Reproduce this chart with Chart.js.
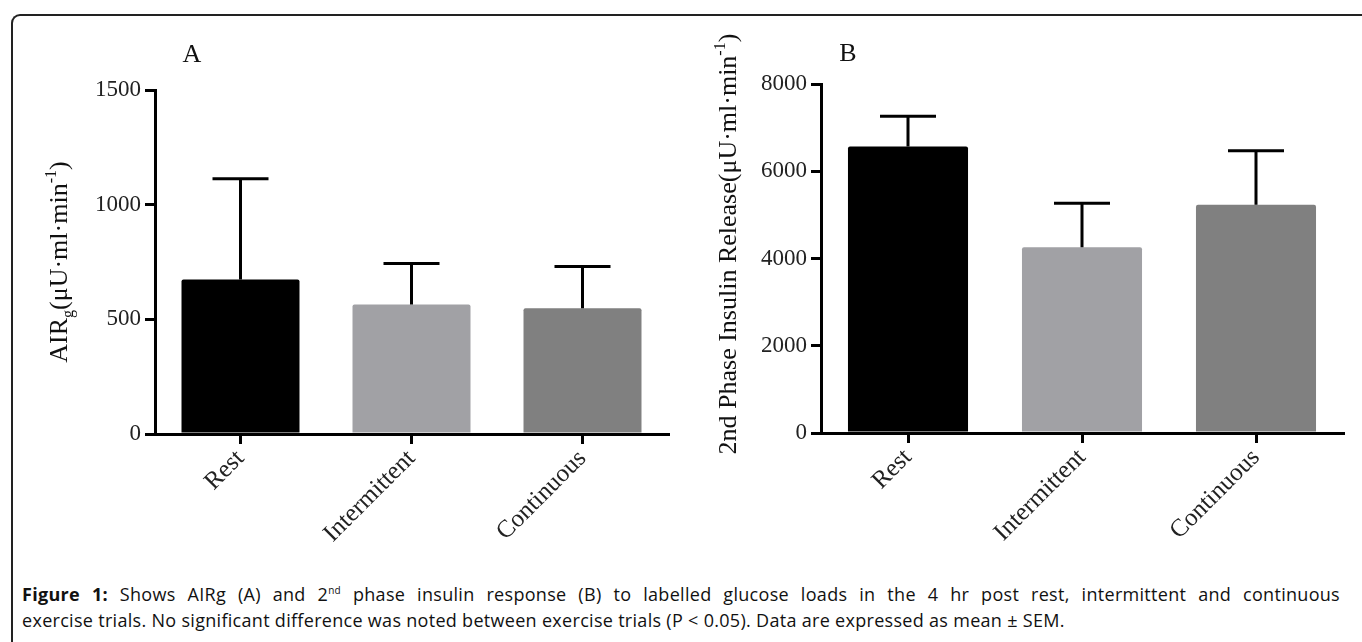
<!DOCTYPE html>
<html>
<head>
<meta charset="utf-8">
<script src="https://cdn.jsdelivr.net/npm/chart.js@4"></script>
<style>
  body { margin: 0; background: #fff; width: 1362px; height: 642px; overflow: hidden; position: relative; }
  #frame {
    position: absolute; left: 11px; top: 14px; width: 1400px; height: 700px;
    border-top: 2px solid #222; border-left: 2px solid #222; border-top-left-radius: 9px;
  }
  #chart-a { position: absolute; left: 0; top: 0; }
  #chart-b { position: absolute; left: 690px; top: 0; }
  #caption {
    position: absolute; left: 22px; top: 581px; width: 1318px;
    font-family: "Open Sans", sans-serif; font-size: 18px; line-height: 26px; color: #111;
    letter-spacing: 0.3px;
  }
  #caption .l1 { text-align: justify; text-align-last: justify; }
  #caption sup { font-size: 10px; line-height: 0; }
</style>
</head>
<body>
<div id="frame"></div>
<canvas id="chart-a" width="690" height="580"></canvas>
<canvas id="chart-b" width="672" height="580"></canvas>
<div id="caption">
  <div class="l1"><b>Figure 1:</b> Shows AIRg (A) and 2<sup>nd</sup> phase insulin response (B) to labelled glucose loads in the 4 hr post rest, intermittent and continuous</div>
  <div>exercise trials. No significant difference was noted between exercise trials (P &lt; 0.05). Data are expressed as mean ± SEM.</div>
</div>
<script>
const categories = ['Rest', 'Intermittent', 'Continuous'];
const barColors = ['#000000', '#a1a1a5', '#808080'];

const airgMeans = [674, 565, 548];
const airgSem = [439, 178, 182];
const airgTicks = [0, 500, 1000, 1500];

const secondPhaseMeans = [6570, 4260, 5230];
const secondPhaseSem = [690, 1007, 1240];
const secondPhaseTicks = [0, 2000, 4000, 6000, 8000];

const serif = '"Liberation Serif", "Times New Roman", serif';

// upward-only SEM bars with a cap
const errorBars = {
  id: 'errorBars',
  afterDatasetsDraw(chart) {
    const ds = chart.data.datasets[0];
    const meta = chart.getDatasetMeta(0);
    const y = chart.scales.y;
    const ctx = chart.ctx;
    ctx.save();
    ctx.strokeStyle = '#000';
    ctx.lineWidth = 3;
    meta.data.forEach((bar, i) => {
      const top = y.getPixelForValue(ds.data[i] + ds.sem[i]);
      ctx.beginPath();
      ctx.moveTo(bar.x, bar.y);
      ctx.lineTo(bar.x, top);
      ctx.moveTo(bar.x - 28, top);
      ctx.lineTo(bar.x + 28, top);
      ctx.stroke();
    });
    ctx.restore();
  }
};

// panel letter + y title with sub/superscripts
const panelText = {
  id: 'panelText',
  afterDraw(chart, args, opts) {
    const ctx = chart.ctx;
    ctx.save();
    ctx.fillStyle = '#111';
    ctx.font = '26px ' + serif;
    ctx.textAlign = 'center';
    ctx.textBaseline = 'alphabetic';
    ctx.fillText(opts.letter, opts.letterX, opts.letterY);

    const size = 26;
    const parts = opts.title.map(p => {
      const s = p.sub || p.sup ? size * 0.62 : size;
      ctx.font = s + 'px ' + serif;
      return { ...p, font: ctx.font, w: ctx.measureText(p.t).width };
    });
    const total = parts.reduce((a, p) => a + p.w, 0);
    ctx.translate(opts.x, opts.y);
    ctx.rotate(-Math.PI / 2);
    ctx.textAlign = 'left';
    let cx = -total / 2;
    parts.forEach(p => {
      ctx.font = p.font;
      const dy = p.sub ? 6 : p.sup ? -11 : 0;
      ctx.fillText(p.t, cx, dy);
      cx += p.w;
    });
    ctx.restore();
  }
};

function makeChart(canvas, means, sem, ticks, yWidth, xHeight, padding, text) {
  return new Chart(canvas, {
    type: 'bar',
    data: {
      labels: categories,
      datasets: [{
        data: means,
        sem: sem,
        backgroundColor: barColors,
        borderRadius: 2,
        categoryPercentage: 1,
        barPercentage: 0.69
      }]
    },
    options: {
      responsive: false,
      animation: false,
      layout: { padding },
      plugins: {
        legend: { display: false },
        tooltip: { enabled: false },
        panelText: text
      },
      scales: {
        x: {
          grid: { drawOnChartArea: false, offset: false, tickLength: 10, lineWidth: 3, color: '#000' },
          border: { color: '#000', width: 3 },
          ticks: { font: { family: serif, size: 25 }, color: '#222', minRotation: 45, maxRotation: 45, padding: 0 },
          afterFit(scale) { scale.height = xHeight; }
        },
        y: {
          min: ticks[0],
          max: ticks[ticks.length - 1],
          afterBuildTicks(scale) { scale.ticks = ticks.map(v => ({ value: v })); },
          grid: { drawOnChartArea: false, tickLength: 10, lineWidth: 3, color: '#000' },
          border: { color: '#000', width: 3 },
          ticks: { font: { family: serif, size: 23 }, color: '#222', padding: 4, callback: v => String(v) },
          afterFit(scale) { scale.width = yWidth; }
        }
      }
    },
    plugins: [errorBars, panelText]
  });
}

makeChart(document.getElementById('chart-a'), airgMeans, airgSem, airgTicks, 155, 146,
  { top: 90, right: 22, left: 0, bottom: 0 },
  {
    letter: 'A', letterX: 192, letterY: 62, x: 67, y: 262,
    title: [{ t: 'AIR' }, { t: 'g', sub: true }, { t: '(μU·ml·min' }, { t: '-1', sup: true }, { t: ')' }]
  });

makeChart(document.getElementById('chart-b'), secondPhaseMeans, secondPhaseSem, secondPhaseTicks, 131, 147,
  { top: 84, right: 19, left: 0, bottom: 0 },
  {
    letter: 'B', letterX: 158, letterY: 61, x: 46, y: 244,
    title: [{ t: '2nd Phase Insulin Release(μU·ml·min' }, { t: '-1', sup: true }, { t: ')' }]
  });
</script>
</body>
</html>
